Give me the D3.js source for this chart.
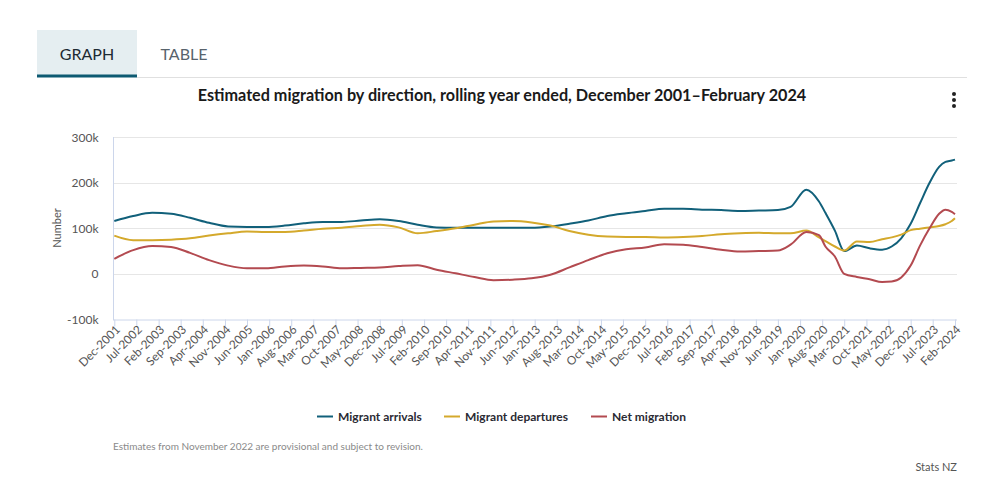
<!DOCTYPE html>
<html>
<head>
<meta charset="utf-8">
<script src="https://cdn.jsdelivr.net/npm/d3@7"></script>
<style>
  body { margin: 0; background: #fff; }
  svg { display: block; font-family: Lato, "Open Sans", sans-serif; }
</style>
</head>
<body>
<svg id="chart" width="994" height="492"></svg>
<script>
const titleText = "Estimated migration by direction, rolling year ended, December 2001\u2013February 2024";
const seriesNames = ["Migrant arrivals", "Migrant departures", "Net migration"];
const seriesColors = ["#11607a", "#d4a92c", "#b34a50"];

const tickLabels = ["Dec-2001","Jul-2002","Feb-2003","Sep-2003","Apr-2004","Nov-2004","Jun-2005","Jan-2006","Aug-2006","Mar-2007","Oct-2007","May-2008","Dec-2008","Jul-2009","Feb-2010","Sep-2010","Apr-2011","Nov-2011","Jun-2012","Jan-2013","Aug-2013","Mar-2014","Oct-2014","May-2015","Dec-2015","Jul-2016","Feb-2017","Sep-2017","Apr-2018","Nov-2018","Jun-2019","Jan-2020","Aug-2020","Mar-2021","Oct-2021","May-2022","Dec-2022","Jul-2023","Feb-2024"];
const yTicks = [-100000, 0, 100000, 200000, 300000];
const yTickLabels = ["-100k", "0", "100k", "200k", "300k"];

const dates = ["2001-12","2002-06","2002-12","2003-06","2003-12","2004-06","2004-12","2005-06","2005-12","2006-06","2006-12","2007-06","2007-12","2008-06","2008-12","2009-06","2009-12","2010-06","2010-12","2011-06","2011-12","2012-06","2012-12","2013-06","2013-12","2014-06","2014-12","2015-06","2015-12","2016-06","2016-12","2017-06","2017-12","2018-06","2018-12","2019-06","2019-10","2020-03","2020-07","2020-09","2020-12","2021-03","2021-07","2021-11","2022-03","2022-06","2022-09","2022-12","2023-03","2023-06","2023-09","2023-11","2024-01","2024-02"];

const arrivals = [116,127,134,132,123,112,104,103,103,106,111,114,114,117,120,116,108,102,101,101,101,101,101,104,110,117,127,133,138,143,143,141,140,138,139,140,147,185,159,134,95,50,62,56,53,60,78,110,155,200,235,246,249,251];
const departures = [84,74,74,75,78,84,89,93,92,92,95,99,101,105,108,102,89,94,100,108,115,116,113,106,94,86,82,81,81,80,81,83,87,89,90,89,89,95,80,72,60,51,71,70,76,80,86,96,99,102,105,109,116,122];
const net = [33,52,61,59,46,30,18,12,12,16,18,16,12,13,14,17,19,9,1,-7,-14,-13,-10,-2,14,30,45,54,58,65,64,59,53,49,50,51,64,92,85,60,38,0,-7,-12,-18,-17,-8,18,62,100,132,141,136,131];

const legendText = seriesNames;
const footnote = "Estimates from November 2022 are provisional and subject to revision.";
const credit = "Stats NZ";

const svg = d3.select("#chart");
const parseMonth = d3.timeParse("%Y-%m");
const parseTick = d3.timeParse("%b-%Y");

// Tabs
svg.append("rect").attr("x", 37).attr("y", 30).attr("width", 100).attr("height", 47).attr("fill", "#e5eef1");
svg.append("line").attr("x1", 137).attr("x2", 967).attr("y1", 77.5).attr("y2", 77.5).attr("stroke", "#e0e0e0");
svg.append("rect").attr("x", 37).attr("y", 74.5).attr("width", 100).attr("height", 3).attr("fill", "#0d5a72");
svg.append("text").attr("x", 87).attr("y", 59.5).attr("text-anchor", "middle").attr("font-size", 16).attr("fill", "#1d2a33").text("GRAPH");
svg.append("text").attr("x", 184).attr("y", 59.5).attr("text-anchor", "middle").attr("font-size", 16).attr("fill", "#58636c").text("TABLE");

// Title
svg.append("text").attr("x", 502).attr("y", 100.5).attr("text-anchor", "middle").attr("font-size", 16.2).attr("font-weight", "bold").attr("fill", "#1a1a1a").text(titleText);

// Menu dots
[94, 100, 106].forEach(cy => svg.append("circle").attr("cx", 954).attr("cy", cy).attr("r", 2).attr("fill", "#222"));

// Scales
const x = d3.scaleTime().domain([parseMonth("2001-12"), parseMonth("2024-02")]).range([114.3, 955]);
const y = d3.scaleLinear().domain([-100000, 300000]).range([319.3, 137.3]);

// Gridlines
const gGrid = svg.append("g");
gGrid.selectAll("line").data(yTicks.filter(v => v > -100000)).join("line")
  .attr("x1", 113).attr("x2", 957)
  .attr("y1", d => Math.round(y(d)) + 0.5).attr("y2", d => Math.round(y(d)) + 0.5)
  .attr("stroke", "#e6e6e6");

// Y axis
const yAxis = d3.axisLeft(y).tickValues(yTicks).tickFormat((d, i) => yTickLabels[i]).tickSize(0).tickPadding(15);
const gy = svg.append("g").attr("transform", "translate(113.5,0)").call(yAxis);
gy.select(".domain").remove();
gy.selectAll("text").attr("font-size", 12).attr("fill", "#555").attr("font-family", "Lato, sans-serif");
svg.append("line").attr("x1", 113.5).attr("x2", 113.5).attr("y1", 137).attr("y2", 320).attr("stroke", "#ccd6eb");

// Y title
svg.append("text").attr("transform", "translate(61,228) rotate(-90)").attr("text-anchor", "middle")
  .attr("font-size", 11).attr("fill", "#555").text("Number");

// X axis
const tickDates = tickLabels.map(parseTick);
const xAxis = d3.axisBottom(x).tickValues(tickDates).tickFormat((d, i) => tickLabels[i]).tickSize(7).tickPadding(4);
const gx = svg.append("g").attr("transform", "translate(0,319.5)").call(xAxis);
gx.select(".domain").attr("d", "M113,0.5H957").attr("stroke", "#ccd6eb");
gx.selectAll(".tick line").attr("stroke", "#ccd6eb");
gx.selectAll(".tick text")
  .attr("font-size", 11.8).attr("fill", "#555").attr("font-family", "Lato, sans-serif")
  .attr("text-anchor", "end")
  .attr("transform", "translate(3,8) rotate(-45)")
  .attr("dy", "0.35em").attr("y", 0).attr("x", 0);

// Lines
const seriesData = [arrivals, departures, net];
const line = d3.line().x(d => x(d.date)).y(d => y(d.value)).curve(d3.curveMonotoneX);
seriesData.forEach((vals, i) => {
  const pts = dates.map((dt, j) => ({ date: parseMonth(dt), value: vals[j] * 1000 }));
  svg.append("path").datum(pts).attr("d", line).attr("fill", "none")
    .attr("stroke", seriesColors[i]).attr("stroke-width", 2).attr("stroke-linejoin", "round");
});

// Legend
const legendX = [317, 444, 591];
legendText.forEach((t, i) => {
  svg.append("line").attr("x1", legendX[i]).attr("x2", legendX[i] + 16).attr("y1", 416.5).attr("y2", 416.5)
    .attr("stroke", seriesColors[i]).attr("stroke-width", 2);
  svg.append("text").attr("x", legendX[i] + 21).attr("y", 421).attr("font-size", 12).attr("font-weight", "bold")
    .attr("fill", "#2a2a33").text(t);
});

// Footnote & credit
svg.append("text").attr("x", 113).attr("y", 450).attr("font-size", 10).attr("fill", "#8a8a8a").text(footnote);
svg.append("text").attr("x", 957).attr("y", 471).attr("text-anchor", "end").attr("font-size", 11).attr("fill", "#555").text(credit);
</script>
</body>
</html>
